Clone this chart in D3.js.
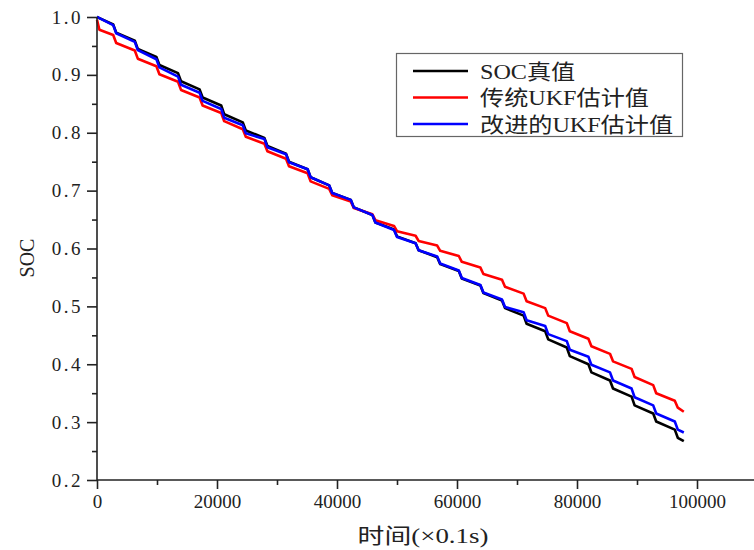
<!DOCTYPE html>
<html>
<head>
<meta charset="utf-8">
<script src="https://cdn.jsdelivr.net/npm/d3@7"></script>
<style>
  html, body { margin: 0; padding: 0; background: #fff; }
  svg { display: block; }
</style>
</head>
<body>
<svg id="chart" width="754" height="550"></svg>
<script>
// ---------------- data ----------------
const time = [0, 400,
  2700, 3200, 6300, 6800, 9900, 10400, 13500, 14000, 17100, 17600,
  20700, 21200, 24300, 24800, 27900, 28400, 31500, 32000, 35100, 35600,
  38700, 39200, 42300, 42800, 45900, 46400, 49500, 50000, 53100, 53600,
  56700, 57200, 60300, 60800, 63900, 64400, 67500, 68000, 71100, 71600,
  74700, 75200, 78300, 78800, 81900, 82400, 85500, 86000, 89100, 89600,
  92700, 93200, 96300, 96800, 97800];

const socTrue = [1.000, 0.998,
  0.987, 0.973, 0.959, 0.945, 0.931, 0.917, 0.903, 0.889, 0.875, 0.861,
  0.847, 0.832, 0.818, 0.804, 0.791, 0.777, 0.764, 0.750, 0.737, 0.723,
  0.709, 0.696, 0.684, 0.671, 0.658, 0.645, 0.633, 0.621, 0.609, 0.597,
  0.585, 0.573, 0.561, 0.548, 0.536, 0.523, 0.510, 0.497, 0.484, 0.470,
  0.457, 0.443, 0.429, 0.414, 0.400, 0.386, 0.372, 0.358, 0.344, 0.329,
  0.315, 0.301, 0.287, 0.273, 0.267];

const ukfTraditional = [0.995, 0.978,
  0.969, 0.955, 0.942, 0.928, 0.915, 0.901, 0.888, 0.874, 0.861, 0.847,
  0.834, 0.820, 0.806, 0.793, 0.781, 0.768, 0.755, 0.742, 0.730, 0.716,
  0.703, 0.692, 0.681, 0.670, 0.659, 0.649, 0.639, 0.630, 0.622, 0.613,
  0.605, 0.596, 0.587, 0.577, 0.567, 0.556, 0.546, 0.534, 0.522, 0.509,
  0.497, 0.484, 0.471, 0.457, 0.444, 0.431, 0.418, 0.405, 0.392, 0.378,
  0.364, 0.350, 0.337, 0.325, 0.318];

const ukfImproved = [1.000, 0.998,
  0.986, 0.972, 0.957, 0.943, 0.927, 0.913, 0.897, 0.883, 0.869, 0.855,
  0.841, 0.826, 0.813, 0.799, 0.789, 0.775, 0.763, 0.749, 0.737, 0.723,
  0.709, 0.696, 0.684, 0.671, 0.658, 0.645, 0.632, 0.620, 0.609, 0.597,
  0.586, 0.574, 0.562, 0.549, 0.537, 0.524, 0.512, 0.499, 0.490, 0.476,
  0.466, 0.452, 0.440, 0.425, 0.413, 0.399, 0.386, 0.372, 0.358, 0.343,
  0.329, 0.315, 0.301, 0.287, 0.282];

const seriesNames = ["SOC真值", "传统UKF估计值", "改进的UKF估计值"];
const seriesColors = ["#000000", "#ff0000", "#0000ff"];

const xTicks = [0, 20000, 40000, 60000, 80000, 100000];
const xMinorTicks = [10000, 30000, 50000, 70000, 90000];
const yTicks = [0.2, 0.3, 0.4, 0.5, 0.6, 0.7, 0.8, 0.9, 1.0];
const yMinorTicks = [0.25, 0.35, 0.45, 0.55, 0.65, 0.75, 0.85, 0.95];

const xTitle = "时间(×0.1s)";
const yTitle = "SOC";

// ---------------- layout ----------------
const svg = d3.select("#chart");
const plotLeft = 97, plotRight = 757, plotTop = 17, plotBottom = 480;

const x = d3.scaleLinear().domain([0, 110000]).range([plotLeft, plotRight]);
const y = d3.scaleLinear().domain([0.2, 1.0]).range([plotBottom, plotTop]);

const tickFont = "'Liberation Serif', 'Times New Roman', serif";
const mixFont = "'Liberation Serif', 'Noto Sans CJK SC', serif";

// ---------------- series ----------------
const seriesData = [socTrue, ukfTraditional, ukfImproved];
const line = d3.line()
  .x(d => x(d[0]))
  .y(d => y(d[1]));

seriesData.forEach((vals, i) => {
  const pts = time.map((t, j) => [t, vals[j]]);
  svg.append("path")
    .datum(pts)
    .attr("fill", "none")
    .attr("stroke", seriesColors[i])
    .attr("stroke-width", 2.6)
    .attr("stroke-linejoin", "round")
    .attr("d", line);
});

// ---------------- axes ----------------
const xAxis = svg.append("g")
  .attr("transform", `translate(0,${plotBottom})`)
  .call(d3.axisBottom(x).tickValues(xTicks).tickFormat(d3.format("d"))
    .tickSize(9).tickSizeOuter(0).tickPadding(6));
svg.append("g")
  .attr("transform", `translate(0,${plotBottom})`)
  .call(d3.axisBottom(x).tickValues(xMinorTicks).tickFormat("")
    .tickSize(5).tickSizeOuter(0))
  .call(g => g.select(".domain").remove())
  .selectAll("line").attr("stroke", "#222").attr("stroke-width", 1.6);

const yAxis = svg.append("g")
  .attr("transform", `translate(${plotLeft},0)`)
  .call(d3.axisLeft(y).tickValues(yTicks).tickFormat(d3.format(".1f"))
    .tickSize(10).tickSizeOuter(0).tickPadding(6));
svg.append("g")
  .attr("transform", `translate(${plotLeft},0)`)
  .call(d3.axisLeft(y).tickValues(yMinorTicks).tickFormat("")
    .tickSize(5).tickSizeOuter(0))
  .call(g => g.select(".domain").remove())
  .selectAll("line").attr("stroke", "#222").attr("stroke-width", 1.6);

xAxis.select(".domain").attr("d", `M${plotLeft},0H754`);
yAxis.select(".domain").attr("d", `M0,${plotTop}V${plotBottom}`);

[xAxis, yAxis].forEach(g => {
  g.selectAll("path, line").attr("stroke", "#222").attr("stroke-width", 1.6);
  g.selectAll("text")
    .attr("fill", "#222")
    .style("font-family", tickFont)
    .style("font-size", "19px");
});
yAxis.selectAll("text").style("letter-spacing", "2.5px").attr("dx", "2");

// ---------------- titles ----------------
svg.append("text")
  .attr("transform", "translate(423,543) scale(1.28,1)")
  .attr("text-anchor", "middle")
  .attr("fill", "#222")
  .style("font-family", mixFont)
  .style("font-size", "21px")
  .text(xTitle);

svg.append("text")
  .attr("transform", `translate(34,258) rotate(-90)`)
  .attr("text-anchor", "middle")
  .attr("fill", "#222")
  .style("font-family", tickFont)
  .style("font-size", "20px")
  .text(yTitle);

// ---------------- legend ----------------
const legend = svg.append("g");
legend.append("rect")
  .attr("x", 396.5).attr("y", 53.5)
  .attr("width", 286).attr("height", 83)
  .attr("fill", "#fff")
  .attr("stroke", "#666")
  .attr("stroke-width", 1.2);

const rowY = d3.scalePoint().domain(seriesNames).range([71, 124]);
seriesNames.forEach((name, i) => {
  const yy = rowY(name);
  legend.append("line")
    .attr("x1", 413).attr("x2", 468)
    .attr("y1", yy).attr("y2", yy)
    .attr("stroke", seriesColors[i])
    .attr("stroke-width", 2.4);
  legend.append("text")
    .attr("transform", `translate(480,${yy}) scale(1.15,1)`)
    .attr("dy", "0.36em")
    .attr("fill", "#222")
    .style("font-family", mixFont)
    .style("font-size", "21px")
    .text(name);
});
</script>
</body>
</html>
